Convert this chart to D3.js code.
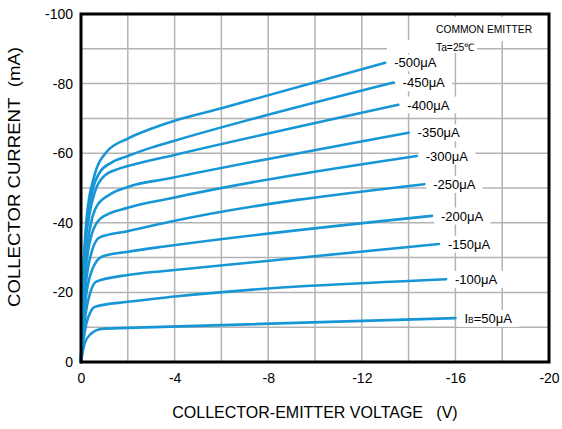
<!DOCTYPE html>
<html>
<head>
<meta charset="utf-8">
<script src="https://cdn.jsdelivr.net/npm/d3@7"></script>
<style>
  html, body { margin: 0; padding: 0; background: #fff; }
  svg { display: block; }
  text { font-family: "Liberation Sans", Arial, sans-serif; fill: #000; white-space: pre; }
</style>
</head>
<body>
<div id="chart"></div>
<script>
// ---- data (V in volts, I in mA; negative as plotted) ----
const xTickValues = [0, -4, -8, -12, -16, -20];
const xTickLabels = ["0", "-4", "-8", "-12", "-16", "-20"];
const yTickValues = [0, -20, -40, -60, -80, -100];
const yTickLabels = ["0", "-20", "-40", "-60", "-80", "-100"];
const xGridValues = [-2, -4, -6, -8, -10, -12, -14, -16, -18];
const yGridValues = [-10, -20, -30, -40, -50, -60, -70, -80, -90];

const seriesNames = ["50μA", "-100μA", "-150μA", "-200μA", "-250μA", "-300μA", "-350μA", "-400μA", "-450μA", "-500μA"];

const ib50  = [[0,0],[-0.16,-5.4],[-0.44,-8.2],[-0.87,-9.5],[-2,-9.8],[-16,-12.6]];
const ib100 = [[0,0],[-0.1,-6],[-0.23,-11.1],[-0.4,-14.3],[-0.6,-15.9],[-2,-17.3],[-4,-18.8],[-15.6,-23.8]];
const ib150 = [[0,0],[-0.08,-7],[-0.2,-14],[-0.4,-20],[-0.65,-23.1],[-2,-25],[-3.8,-26.3],[-15.3,-33.9]];
const ib200 = [[0,0],[-0.08,-9],[-0.2,-18],[-0.45,-26],[-0.9,-30.3],[-2,-31.7],[-3.8,-33.4],[-15,-42]];
const ib250 = [[0,0],[-0.07,-11],[-0.2,-22],[-0.45,-31.5],[-0.8,-35.8],[-2,-37.6],[-3.8,-40.3],[-14.67,-51.1]];
const ib300 = [[0,0],[-0.07,-13],[-0.2,-26],[-0.45,-36.5],[-0.85,-41.3],[-2,-44.3],[-3.8,-47],[-14.35,-59.2]];
const ib350 = [[0,0],[-0.06,-14],[-0.18,-28],[-0.4,-39],[-0.65,-44.5],[-1.2,-48],[-2,-50.3],[-3.8,-52.8],[-14,-65.9]];
const ib400 = [[0,0],[-0.05,-15],[-0.15,-30],[-0.35,-42],[-0.6,-49],[-1,-53.5],[-1.6,-55.5],[-2,-56.3],[-4,-59.5],[-13.56,-73.9]];
const ib450 = [[0,0],[-0.06,-18],[-0.2,-36],[-0.45,-48],[-0.8,-54.5],[-1.3,-57.3],[-2,-59.2],[-3,-61.6],[-4,-63.6],[-13.36,-80.3]];
const ib500 = [[0,0],[-0.08,-22],[-0.25,-42],[-0.55,-53],[-1.1,-60.4],[-2,-64.2],[-3,-67],[-4,-69.3],[-6,-72.9],[-13,-86]];

const seriesData = [ib50, ib100, ib150, ib200, ib250, ib300, ib350, ib400, ib450, ib500];

const titleX = "COLLECTOR-EMITTER VOLTAGE\u00a0\u00a0\u00a0(V)";
const titleY = "COLLECTOR CURRENT\u00a0\u00a0(mA)";
const noteLines = ["COMMON EMITTER", "Ta=25℃"];

// ---- layout ----
const W = 562, H = 429;
const plot = { left: 81, right: 549, top: 14, bottom: 362 };
const lineColor = "#1796d6";

const svg = d3.select("#chart").append("svg").attr("width", W).attr("height", H);

const x = d3.scaleLinear().domain([0, -20]).range([plot.left, plot.right]);
const y = d3.scaleLinear().domain([0, -100]).range([plot.bottom, plot.top]);

// grid
const grid = svg.append("g").attr("stroke", "#b3b3b3").attr("stroke-width", 1.5);
grid.selectAll("line.v").data(xGridValues).join("line")
  .attr("x1", d => x(d)).attr("x2", d => x(d))
  .attr("y1", plot.top).attr("y2", plot.bottom);
grid.selectAll("line.h").data(yGridValues).join("line")
  .attr("y1", d => y(d)).attr("y2", d => y(d))
  .attr("x1", plot.left).attr("x2", plot.right);

// label layer (white boxes hide grid)
const labelG = svg.append("g");

// curves
const line = d3.line().x(d => x(d[0])).y(d => y(d[1])).curve(d3.curveMonotoneX);
svg.append("g").selectAll("path").data(seriesData).join("path")
  .attr("d", line)
  .attr("fill", "none")
  .attr("stroke", lineColor)
  .attr("stroke-width", 2.6)
  .attr("stroke-linejoin", "round")
  .attr("stroke-linecap", "round");

// series labels
seriesData.forEach((s, i) => {
  const end = s[s.length - 1];
  const tx = x(end[0]) + 9, ty = y(end[1]);
  const g = labelG.append("g");
  const rect = g.append("rect").attr("fill", "#fff");
  const t = g.append("text").attr("x", tx).attr("y", ty).attr("dy", "0.36em")
    .attr("font-size", 13);
  if (i === 0) {
    t.append("tspan").text("I");
    t.append("tspan").attr("font-size", 8.5).text("B");
    t.append("tspan").text("=" + seriesNames[i]);
  } else {
    t.text(seriesNames[i]);
  }
  const bb = t.node().getBBox();
  rect.attr("x", bb.x - 7).attr("y", bb.y - 1).attr("width", bb.width + 14).attr("height", bb.height + 2);
});

// note
const noteG = labelG.append("g");
noteG.append("rect").attr("x", 430).attr("y", 17).attr("width", 110).attr("height", 24).attr("fill", "#fff");
noteG.append("rect").attr("x", 387).attr("y", 40).attr("width", 90).attr("height", 13).attr("fill", "#fff");
noteG.append("text").attr("x", 436).attr("y", 32.5).attr("font-size", 10.3).text(noteLines[0]);
noteG.append("text").attr("x", 436).attr("y", 50.5).attr("font-size", 10.3).text(noteLines[1]);

// frame
svg.append("rect")
  .attr("x", plot.left).attr("y", plot.top)
  .attr("width", plot.right - plot.left).attr("height", plot.bottom - plot.top)
  .attr("fill", "none").attr("stroke", "#000").attr("stroke-width", 3);

// axes
const xAxis = d3.axisBottom(x).tickValues(xTickValues).tickFormat((d, i) => xTickLabels[i]).tickSize(0).tickPadding(10);
const gx = svg.append("g").attr("transform", `translate(0,${plot.bottom})`).call(xAxis);
gx.select(".domain").remove();
gx.selectAll("text").attr("font-size", 14).attr("font-family", "Liberation Sans, Arial, sans-serif").attr("dy", "0.71em").attr("y", 11);

const yAxis = d3.axisLeft(y).tickValues(yTickValues).tickFormat((d, i) => yTickLabels[i]).tickSize(0).tickPadding(8);
const gy = svg.append("g").attr("transform", `translate(${plot.left},0)`).call(yAxis);
gy.select(".domain").remove();
gy.selectAll("text").attr("font-size", 14).attr("font-family", "Liberation Sans, Arial, sans-serif");

// titles
svg.append("text").attr("x", (plot.left + plot.right) / 2).attr("y", 418)
  .attr("text-anchor", "middle").attr("font-size", 16).text(titleX);
svg.append("text").attr("transform", "translate(20,177) rotate(-90)")
  .attr("text-anchor", "middle").attr("font-size", 17)
  .attr("textLength", 260).attr("lengthAdjust", "spacingAndGlyphs").text(titleY);
</script>
</body>
</html>
